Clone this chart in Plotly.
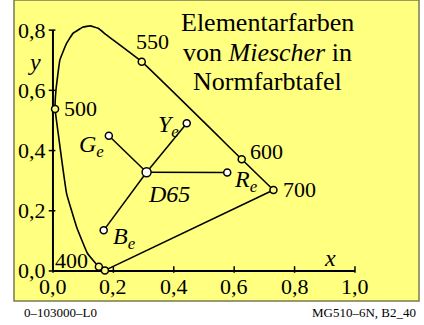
import plotly.graph_objects as go

# spectral locus (from the violet end up over the top to red)
locus_x = [0.172, 0.150, 0.114, 0.078, 0.045, 0.029, 0.017, 0.007, 0.010,
           0.023, 0.045, 0.067, 0.100, 0.123, 0.150, 0.177, 0.294, 0.625, 0.730]
locus_y = [0.002, 0.016, 0.059, 0.147, 0.258, 0.369, 0.460, 0.538, 0.601,
           0.701, 0.756, 0.790, 0.810, 0.814, 0.806, 0.784, 0.695, 0.371, 0.269]

# marked wavelengths on the locus
wl_labels = ["400", "", "500", "550", "600", "700"]
wl_x = [0.152, 0.172, 0.007, 0.294, 0.625, 0.730]
wl_y = [0.014, 0.002, 0.538, 0.695, 0.371, 0.269]

# elementary colours after Miescher and the white point
white_name = "D65"
white_x, white_y = 0.310, 0.328
elem_names = ["G", "Y", "R", "B"]
elem_x = [0.185, 0.443, 0.577, 0.168]
elem_y = [0.449, 0.491, 0.327, 0.135]

x_ticks = [0.0, 0.2, 0.4, 0.6, 0.8, 1.0]
y_ticks = [0.0, 0.2, 0.4, 0.6, 0.8]

title_lines = ["Elementarfarben", "von <i>Miescher</i> in", "Normfarbtafel"]

SERIF = "Liberation Serif, Times New Roman, serif"
BG = "#ffff80"

fig = go.Figure()

# spectral locus and purple line
fig.add_trace(go.Scatter(x=locus_x, y=locus_y, mode="lines",
                         line=dict(color="black", width=1.6, shape="spline", smoothing=0.3),
                         hoverinfo="skip"))
fig.add_trace(go.Scatter(x=[locus_x[-1], locus_x[0]], y=[locus_y[-1], locus_y[0]], mode="lines",
                         line=dict(color="black", width=1.6), hoverinfo="skip"))

# lines from D65 to each elementary colour
lx, ly = [], []
for ex, ey in zip(elem_x, elem_y):
    lx += [white_x, ex, None]
    ly += [white_y, ey, None]
fig.add_trace(go.Scatter(x=lx, y=ly, mode="lines", line=dict(color="black", width=1.5),
                         hoverinfo="skip"))

# axes drawn by hand so they stop at 1.0 / 0.8
fig.add_trace(go.Scatter(x=[x_ticks[0], x_ticks[-1]], y=[0, 0], mode="lines",
                         line=dict(color="black", width=2), hoverinfo="skip"))
fig.add_trace(go.Scatter(x=[0, 0], y=[y_ticks[0], y_ticks[-1]], mode="lines",
                         line=dict(color="black", width=2), hoverinfo="skip"))
tx, ty = [], []
for v in x_ticks:
    tx += [v, v, None]
    ty += [-0.006, 0.016, None]
for v in y_ticks:
    tx += [-0.014, 0.008, None]
    ty += [v, v, None]
fig.add_trace(go.Scatter(x=tx, y=ty, mode="lines", line=dict(color="black", width=1.5),
                         hoverinfo="skip"))

# markers
fig.add_trace(go.Scatter(x=wl_x, y=wl_y, mode="markers",
                         marker=dict(size=7, color=BG, line=dict(color="black", width=1.5)),
                         hoverinfo="skip"))
fig.add_trace(go.Scatter(x=elem_x, y=elem_y, mode="markers",
                         marker=dict(size=7, color="white", line=dict(color="black", width=1.5)),
                         hoverinfo="skip"))
fig.add_trace(go.Scatter(x=[white_x], y=[white_y], mode="markers",
                         marker=dict(size=9, color="white", line=dict(color="black", width=1.5)),
                         hoverinfo="skip"))

ann = []
# tick labels
for v in x_ticks:
    ann.append(dict(x=v, y=0, text=f"{v:.1f}".replace(".", ","), showarrow=False,
                    yshift=-16, font=dict(size=22)))
for v in y_ticks:
    ann.append(dict(x=0, y=v, text=f"{v:.1f}".replace(".", ","), showarrow=False,
                    xanchor="right", xshift=-5, font=dict(size=22)))
ann.append(dict(x=0.917, y=0.042, text="<i>x</i>", showarrow=False, font=dict(size=24)))
ann.append(dict(x=-0.06, y=0.695, text="<i>y</i>", showarrow=False, font=dict(size=24)))

# wavelength labels
wl_off = {"400": (-27, 6), "500": (25, 0), "550": (11, 20), "600": (25, 8), "700": (26, 0)}
for lab, px_, py_ in zip(wl_labels, wl_x, wl_y):
    if not lab:
        continue
    dx, dy = wl_off[lab]
    ann.append(dict(x=px_, y=py_, text=lab, showarrow=False, xshift=dx, yshift=dy,
                    font=dict(size=22)))

# elementary colour labels
el_off = {"G": (-17, -10), "Y": (-18, -3), "R": (19, -8), "B": (21, -8)}
for n, ex, ey in zip(elem_names, elem_x, elem_y):
    dx, dy = el_off[n]
    ann.append(dict(x=ex, y=ey, text=f"<i>{n}<sub>e</sub></i>", showarrow=False,
                    xshift=dx, yshift=dy, font=dict(size=24)))
ann.append(dict(x=white_x, y=white_y, text=f"<i>{white_name}</i>", showarrow=False,
                xshift=22, yshift=-22, font=dict(size=24)))

# title block
for i, line in enumerate(title_lines):
    ann.append(dict(x=0.709, y=0.824 - i * 0.097, text=line, showarrow=False,
                    font=dict(size=26)))

# footer texts
ann.append(dict(xref="paper", yref="paper", x=0.02, y=-0.037, text="0\u2013103000\u2013L0",
                showarrow=False, xanchor="left", yanchor="middle", font=dict(size=13)))
ann.append(dict(xref="paper", yref="paper", x=0.997, y=-0.037, text="MG510\u20136N, B2_40",
                showarrow=False, xanchor="right", yanchor="middle", font=dict(size=13)))

fig.update_layout(
    width=424, height=325,
    margin=dict(l=14, r=5, t=0, b=24),
    paper_bgcolor="white", plot_bgcolor=BG,
    showlegend=False,
    font=dict(family=SERIF, color="black"),
    annotations=ann,
    shapes=[dict(type="rect", xref="paper", yref="paper", x0=0, y0=0, x1=1, y1=1,
                 line=dict(color="#7a7a50", width=1.5))],
    xaxis=dict(range=[-0.129, 1.212], visible=False, fixedrange=True),
    yaxis=dict(range=[-0.0997, 0.900], visible=False, fixedrange=True),
)

# the page's default body margin would push the figure 8px down and right
fig.write_html("out.html", config={"displayModeBar": False},
               post_script="document.body.style.margin='0';")
